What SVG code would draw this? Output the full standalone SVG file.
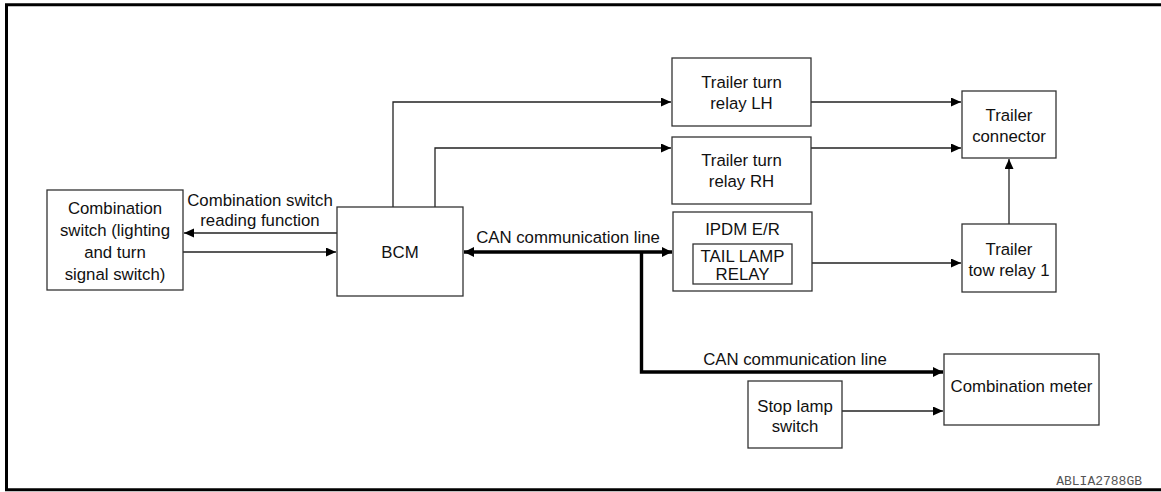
<svg xmlns="http://www.w3.org/2000/svg" width="1161" height="492" viewBox="0 0 1161 492">
<style>
.box{fill:#fff;stroke:#333;stroke-width:1.3}
.ln{fill:none;stroke:#222;stroke-width:1.3}
.thk{fill:none;stroke:#000;stroke-width:3.4}
.t{font-family:"Liberation Sans",Arial,sans-serif;font-size:16.8px;fill:#111;text-anchor:middle}
.frame{fill:none;stroke:#000;stroke-width:3}
</style>
<defs>
<marker id="ah" markerUnits="userSpaceOnUse" markerWidth="11" markerHeight="10" refX="10" refY="4.5" orient="auto-start-reverse" viewBox="0 0 11 10">
<path d="M0,0 L10,4.5 L0,9 z" fill="#000"/>
</marker>
<marker id="ahb" markerUnits="userSpaceOnUse" markerWidth="11" markerHeight="11" refX="10" refY="5" orient="auto-start-reverse" viewBox="0 0 11 11">
<path d="M0,0 L10,5 L0,10 z" fill="#000"/>
</marker>
</defs>
<rect width="1161" height="492" fill="#fff"/>
<path class="frame" d="M1161,4.7 H6.5 V489.7 H1161"/>

<g id="connectors">
<path class="ln" d="M337,233 H184" marker-end="url(#ah)"/>
<path class="ln" d="M183,252 H336" marker-end="url(#ah)"/>
<path class="ln" d="M393,207 V102 H671" marker-end="url(#ah)"/>
<path class="ln" d="M435,207 V148 H671" marker-end="url(#ah)"/>
<path class="ln" d="M811,102 H961" marker-end="url(#ah)"/>
<path class="ln" d="M811,148 H961" marker-end="url(#ah)"/>
<path class="ln" d="M792,263 H961" marker-end="url(#ah)"/>
<path class="ln" d="M1009,224 V159" marker-end="url(#ah)"/>
<path class="ln" d="M842,411 H943" marker-end="url(#ah)"/>
<path class="thk" d="M464,252 H672" marker-start="url(#ahb)" marker-end="url(#ahb)"/>
<path class="thk" d="M641.5,252 V372 H943" marker-end="url(#ahb)"/>
<text class="t" x="260" y="206">Combination switch</text>
<text class="t" x="260" y="226">reading function</text>
<text class="t" x="568" y="243">CAN communication line</text>
<text class="t" x="795" y="365">CAN communication line</text>
</g>

<g id="combination-switch">
<rect class="box" x="47" y="190" width="136" height="100"/>
<text class="t" x="115" y="214">Combination</text>
<text class="t" x="115" y="236">switch (lighting</text>
<text class="t" x="115" y="258">and turn</text>
<text class="t" x="115" y="280">signal switch)</text>
</g>

<g id="bcm">
<rect class="box" x="337" y="207" width="126" height="89"/>
<text class="t" x="400" y="258">BCM</text>
</g>

<g id="trailer-turn-relay-lh">
<rect class="box" x="672" y="58" width="139" height="68"/>
<text class="t" x="741.5" y="88">Trailer turn</text>
<text class="t" x="741.5" y="109">relay LH</text>
</g>

<g id="trailer-turn-relay-rh">
<rect class="box" x="672" y="137" width="139" height="67"/>
<text class="t" x="741.5" y="166">Trailer turn</text>
<text class="t" x="741.5" y="187">relay RH</text>
</g>

<g id="ipdm-er">
<rect class="box" x="673" y="212" width="139" height="79"/>
<text class="t" x="742.5" y="235">IPDM E/R</text>
<rect class="box" x="693" y="244" width="99" height="40"/>
<text class="t" x="742.5" y="262">TAIL LAMP</text>
<text class="t" x="742.5" y="280">RELAY</text>
</g>

<g id="trailer-connector">
<rect class="box" x="962" y="91" width="94" height="67"/>
<text class="t" x="1009" y="121">Trailer</text>
<text class="t" x="1009" y="142">connector</text>
</g>

<g id="trailer-tow-relay-1">
<rect class="box" x="962" y="224" width="94" height="68"/>
<text class="t" x="1009" y="255">Trailer</text>
<text class="t" x="1009" y="276">tow relay 1</text>
</g>

<g id="stop-lamp-switch">
<rect class="box" x="748" y="381" width="94" height="67"/>
<text class="t" x="795" y="412">Stop lamp</text>
<text class="t" x="795" y="432">switch</text>
</g>

<g id="combination-meter">
<rect class="box" x="944" y="354" width="155" height="71"/>
<text class="t" x="1021.5" y="392">Combination meter</text>
</g>

<text x="1142" y="485" font-family="'Liberation Mono','Courier New',monospace" font-size="13" fill="#555" text-anchor="end">ABLIA2788GB</text>
</svg>
